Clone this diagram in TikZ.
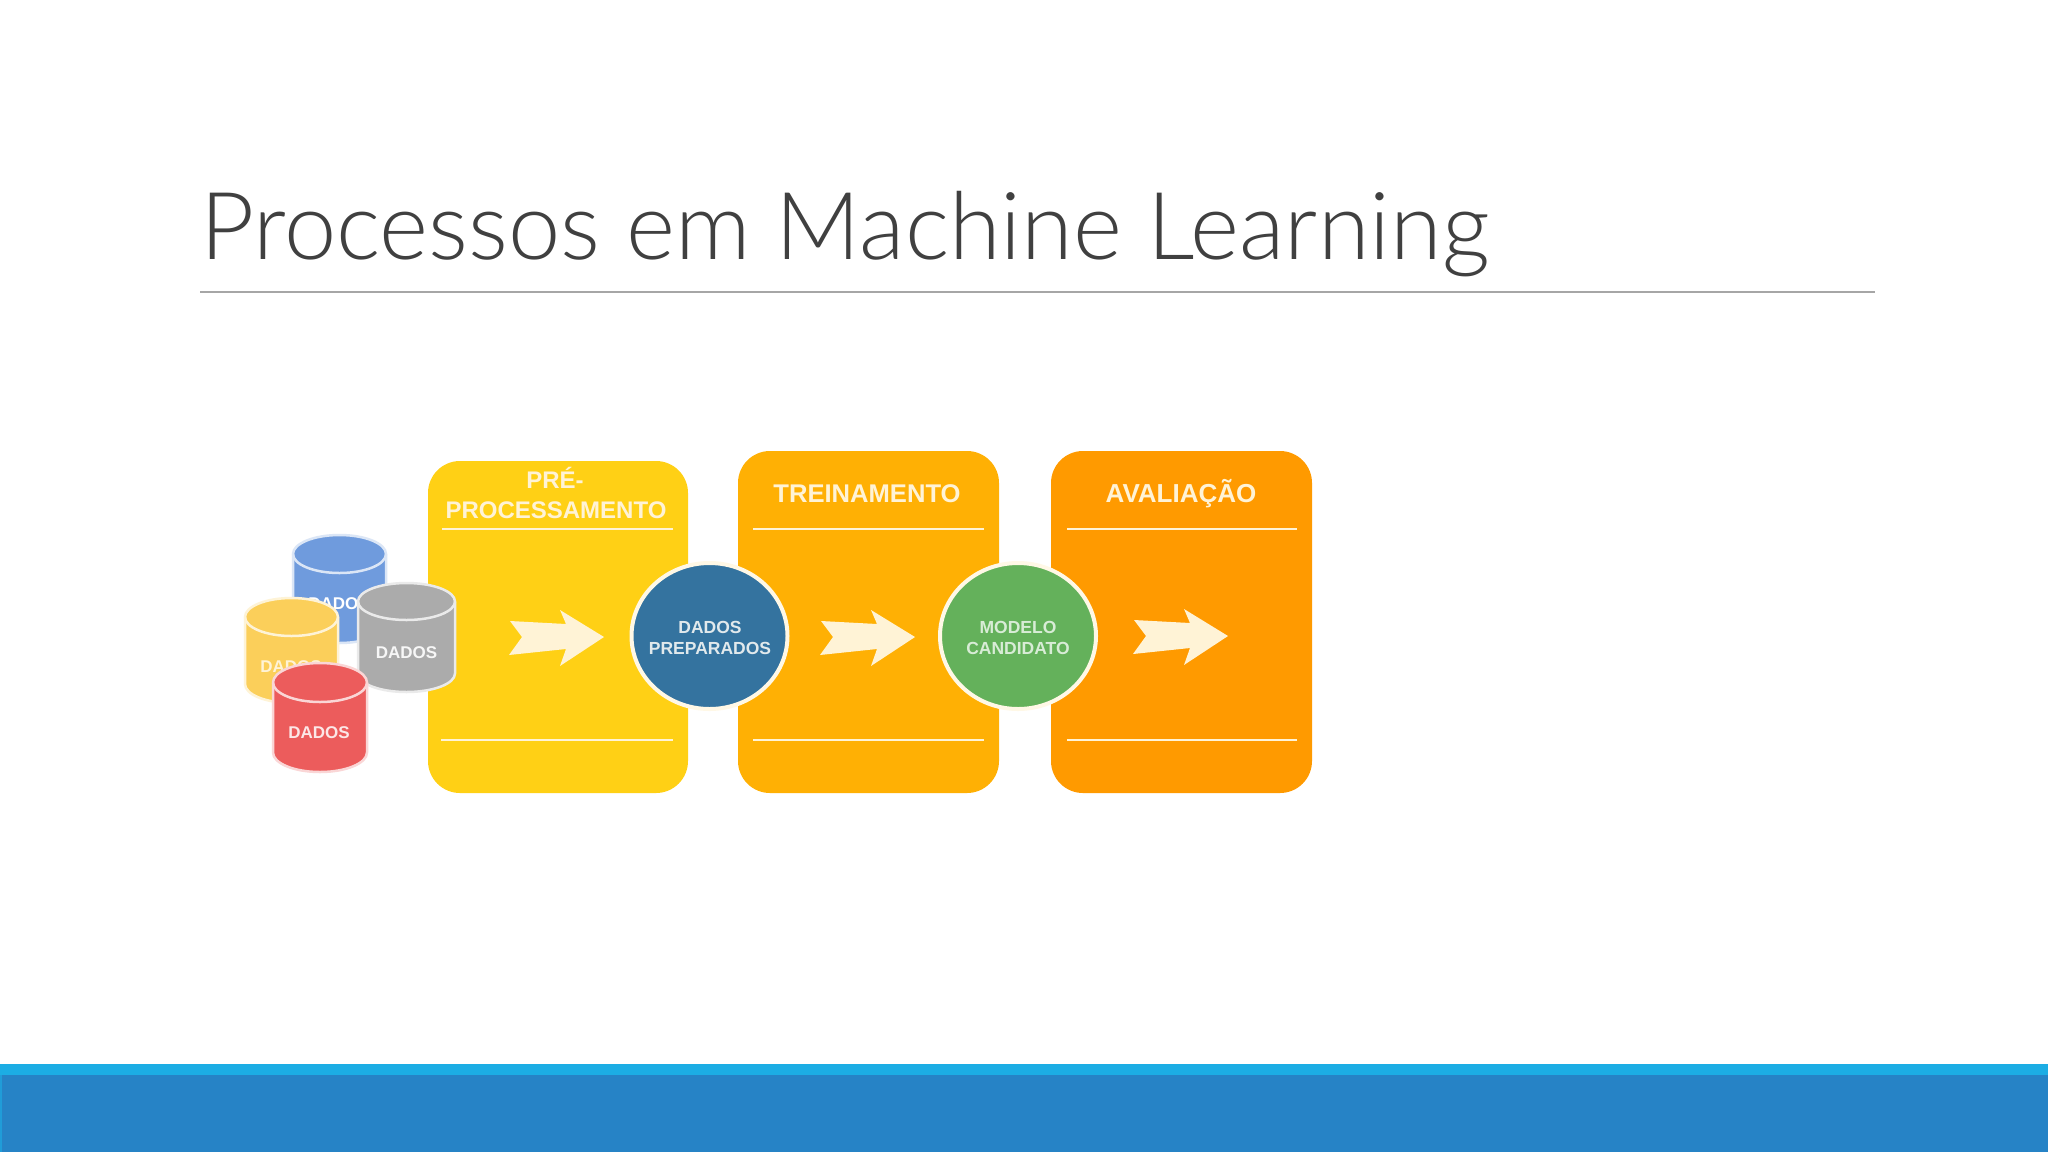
\documentclass[tikz,border=0pt]{standalone}
\usepackage{fontspec}
\usetikzlibrary{shapes.geometric}
\setmainfont{Liberation Sans}
\newfontfamily\titlefont{Lato Light}
\definecolor{boxa}{HTML}{FFD015}
\definecolor{boxb}{HTML}{FFB004}
\definecolor{boxc}{HTML}{FF9A00}
\definecolor{cream}{HTML}{FFF3D6}
\definecolor{circblue}{HTML}{34739F}
\definecolor{circgreen}{HTML}{64B15B}
\definecolor{titlegray}{HTML}{404040}
\definecolor{rulegray}{HTML}{A6A6A6}
\definecolor{footlight}{HTML}{1CADE4}
\definecolor{footdark}{HTML}{2683C6}
\definecolor{cylblue}{HTML}{6F9BDD}
\definecolor{cylyellow}{HTML}{FBCF5A}
\definecolor{cylgray}{HTML}{ABABAB}
\definecolor{cylred}{HTML}{EC5C5C}
\tikzset{
  panel/.style={rectangle,rounded corners=32pt,inner sep=0pt,minimum width=#1},
  head/.style={text=cream,font=\fontsize{#1}{#1}\selectfont\bfseries,inner sep=0pt},
  round/.style={ellipse,inner sep=0pt,minimum width=156pt,minimum height=146pt,draw=cream!60!white,line width=4pt},
  roundtxt/.style={font=\fontsize{17.5}{17.5}\selectfont\bfseries,inner sep=0pt},
  cyltxt/.style={font=\fontsize{17}{17}\selectfont\bfseries,text=#1,inner sep=0pt},
  sep/.style={draw=cream,line width=1.6pt},
  flecha/.pic={\fill[cream] (0,0) -- (56,3) -- (50,-11) -- (94,16) -- (50,45) -- (56,28) -- (-1,34) -- (12,16) -- cycle;}
}
\newcommand{\dbcyl}[6]{% left, right, top, lidbottom, bottom, colour
  \pgfmathsetmacro{\rx}{(#2-#1)/2}
  \pgfmathsetmacro{\ry}{(#4-#3)/2}
  \pgfmathsetmacro{\my}{(#3+#4)/2}
  \pgfmathsetmacro{\by}{#5-\ry}
  \path[fill=#6,draw=#6!25!white,line width=2.5pt] (#1,\my) arc[start angle=180,end angle=360,x radius=\rx,y radius=\ry]
     -- (#2,\by) arc[start angle=0,end angle=180,x radius=\rx,y radius=\ry] -- cycle;
  \path[draw=#6!25!white,line width=2.5pt] (#1,\my) arc[start angle=180,end angle=0,x radius=\rx,y radius=\ry];
}
\begin{document}
\begin{tikzpicture}[x=1pt,y=-1pt]
\useasboundingbox (0,0) rectangle (2048,1152);
\fill[white] (0,0) rectangle (2048,1152);
% title
\node[anchor=base west,inner sep=0pt,text=titlegray,font=\titlefont\fontsize{93.8}{94}\selectfont] (title) at (200,259) {Processos em Machine Learning};
\coordinate (rulea) at (200,292);
\coordinate (ruleb) at (1875,292);
\draw[rulegray,line width=1.2pt] (rulea) -- (ruleb);
% footer
\fill[footlight] (0,1064) rectangle (2048,1075);
\fill[footdark] (0,1075) rectangle (2048,1152);
\fill[footlight!60!footdark] (0,1075) rectangle (1.5,1152);
% panels
\node[panel=260pt,minimum height=332pt,fill=boxa] (pp) at (558,627) {};
\node[panel=261pt,minimum height=342pt,fill=boxb] (tr) at (868.5,622) {};
\node[panel=261pt,minimum height=342pt,fill=boxc] (av) at (1181.5,622) {};
\node[head=24] (pphead1) at (555,478) {PRÉ-};
\node[head=24] (pphead2) at (556,510) {PROCESSAMENTO};
\node[head=25.6] (trhead) at (867,494) {TREINAMENTO};
\node[head=26] (avhead) at (1181,494) {AVALIAÇÃO};
\draw[sep] (442,529) -- (673,529);
\draw[sep] (441,740) -- (673,740);
\draw[sep] (753,529) -- (984,529);
\draw[sep] (753,740) -- (984,740);
\draw[sep] (1067,529) -- (1297,529);
\draw[sep] (1067,740) -- (1297,740);
% arrows
\pic at (510,621) {flecha};
\pic at (821,621) {flecha};
\pic at (1134,620) {flecha};
% circles
\node[round,fill=circblue] (prep) at (709.5,636) {};
\node[round,fill=circgreen] (cand) at (1018,636) {};
\node[roundtxt,text=cream!40!circblue!25!white] (prep1) at (710,627) {DADOS};
\node[roundtxt,text=cream!40!circblue!25!white] (prep2) at (710,648) {PREPARADOS};
\node[roundtxt,text=circgreen!25!white] (cand1) at (1018,627) {MODELO};
\node[roundtxt,text=circgreen!25!white] (cand2) at (1018,648) {CANDIDATO};
% cylinders
\dbcyl{293}{386}{535}{573}{643}{cylblue}
\node[cyltxt=white] (dblue) at (339,604) {DADOS};
\dbcyl{245}{338}{598}{636}{703}{cylyellow}
\node[cyltxt=cream] (dyellow) at (291,667) {DADOS};
\dbcyl{358}{455}{583}{620}{692}{cylgray}
\node[cyltxt=white!90!cylgray] (dgray) at (406.5,653) {DADOS};
\dbcyl{273}{367}{663}{702}{772}{cylred}
\node[cyltxt=white!85!cylred] (dred) at (319,733) {DADOS};
\end{tikzpicture}
\end{document}
